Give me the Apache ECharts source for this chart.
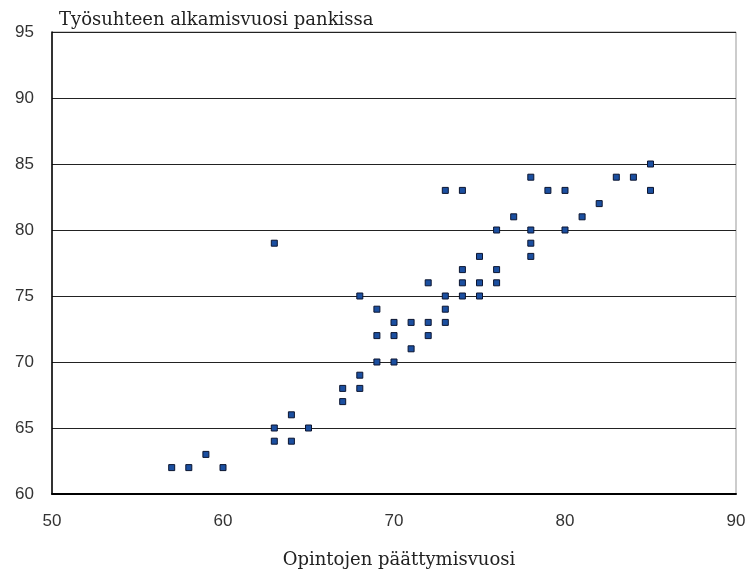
<!DOCTYPE html>
<html><head><meta charset="utf-8">
<script src="https://cdn.jsdelivr.net/npm/echarts@6/dist/echarts.min.js"></script>
<style>html,body{margin:0;padding:0;background:#fff}#c{width:749px;height:574px}</style>
</head><body><div id="c"></div>
<script>
const xTitle = 'Opintojen päättymisvuosi';
const yTitle = 'Työsuhteen alkamisvuosi pankissa';
const graduationYear = [57,58,59,60,63,63,63,64,64,65,67,67,68,68,68,69,69,69,70,70,70,71,71,72,72,72,73,73,73,73,74,74,74,74,75,75,75,76,76,76,77,78,78,78,78,79,80,80,81,82,83,84,85,85];
const startYear      = [62,62,63,62,79,65,64,66,64,65,68,67,75,69,68,74,72,70,73,72,70,73,71,76,73,72,83,75,74,73,83,77,76,75,78,76,75,80,77,76,81,84,80,79,78,83,83,80,81,82,84,84,85,83];
const data = graduationYear.map((x, i) => [x, startYear[i]]);

const chart = echarts.init(document.getElementById('c'));
const serif = '"DejaVu Serif", "Liberation Serif", serif';
const sans = '"Liberation Sans", Arial, sans-serif';
chart.setOption({
  animation: false,
  backgroundColor: '#fff',
  title: {
    text: yTitle, left: 54, top: 6,
    textStyle: { fontFamily: serif, fontWeight: 'normal', fontSize: 18, color: '#222' }
  },
  grid: { left: 52, top: 32, right: 13, bottom: 79, show: true, borderColor: '#999', borderWidth: 1 },
  xAxis: {
    type: 'value', min: 50, max: 90, interval: 10,
    name: xTitle, nameLocation: 'middle', nameGap: 57,
    nameTextStyle: { fontFamily: serif, fontSize: 18, color: '#222', padding: [0, 0, 0, 10] },
    axisLine: { lineStyle: { color: '#000', width: 2 } },
    axisTick: { show: false },
    splitLine: { show: false },
    axisLabel: { fontFamily: sans, fontSize: 17, color: '#333', margin: 19 }
  },
  yAxis: {
    type: 'value', min: 60, max: 95, interval: 5,
    axisLine: { show: true, lineStyle: { color: '#000', width: 1.5 } },
    axisTick: { show: false },
    splitLine: { show: true, lineStyle: { color: '#222', width: 1 } },
    axisLabel: { fontFamily: sans, fontSize: 17, color: '#333', margin: 18 }
  },
  series: [{
    type: 'scatter', data: data,
    symbol: 'rect', symbolSize: 6,
    itemStyle: { color: '#1b4fa0', borderColor: '#0c1530', borderWidth: 1, opacity: 1 }
  }]
});
</script></body></html>
